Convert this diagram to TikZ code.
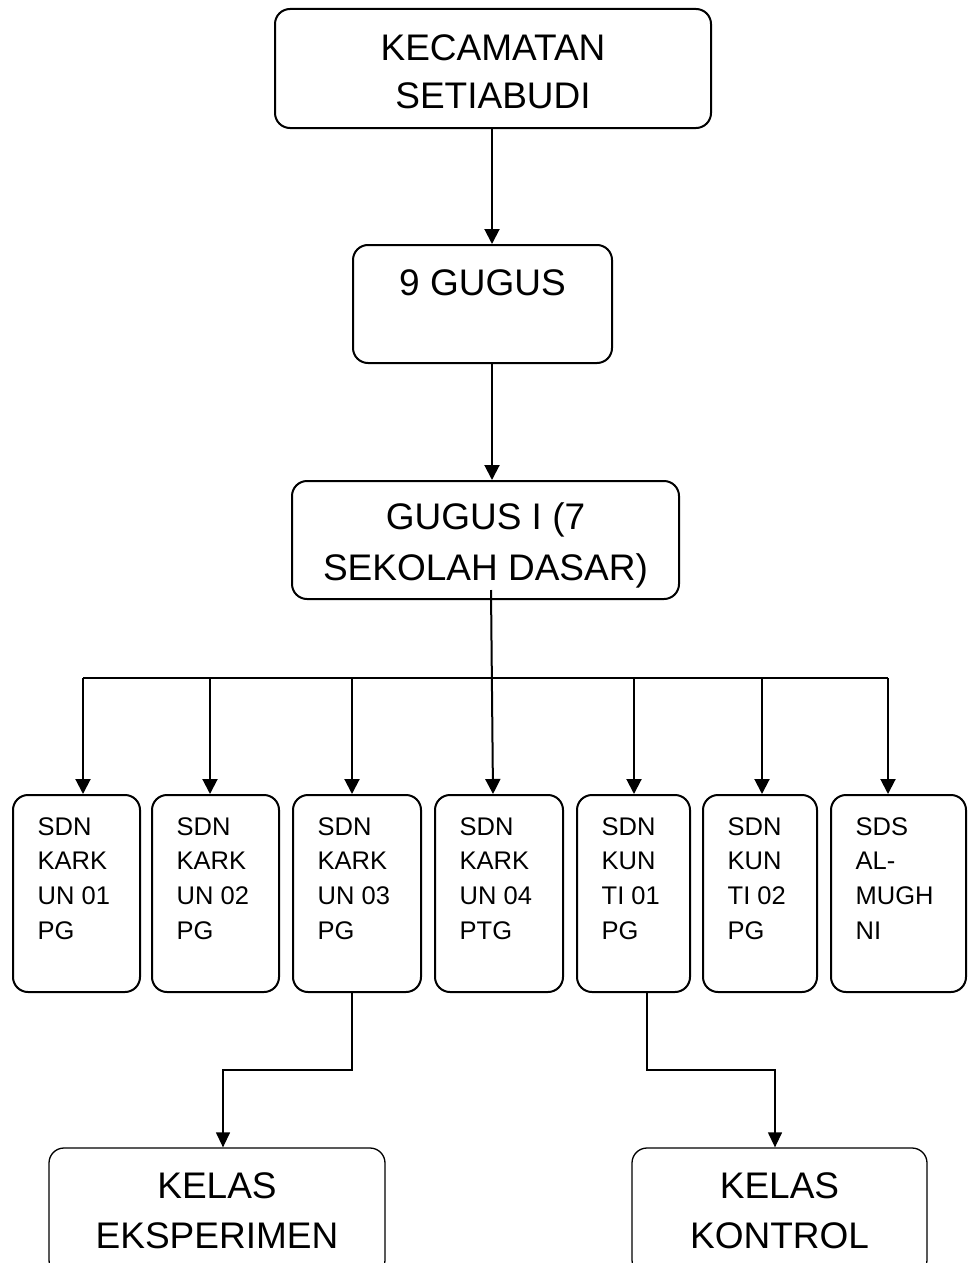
\documentclass[tikz,border=0pt]{standalone}
\usepackage{fontspec}
\setmainfont{Liberation Sans}
\usetikzlibrary{arrows.meta}
\begin{document}
\begin{tikzpicture}[x=1pt,y=-1pt,
  box/.style={draw, line width=2pt, rounded corners=15pt, inner sep=0pt},
  thinbox/.style={draw, line width=1.3pt, rounded corners=15pt, inner sep=0pt},
  big/.style={font=\fontsize{37}{49}\selectfont, align=center, anchor=base, inner sep=0pt},
  small/.style={font=\fontsize{25.5}{34.8}\selectfont, align=left, anchor=base west, inner sep=0pt},
  arr/.style={line width=2pt, -{Triangle[width=15pt,length=15pt]}},
  thinarr/.style={line width=1.3pt, -{Triangle[width=14pt,length=15pt]}},
]
\path[use as bounding box] (0,0) rectangle (967,1263);
\clip (0,0) rectangle (967,1263);
% boxes
\node[box, minimum width=436pt, minimum height=119pt] (kec) at (493,68.5) {};
\node[box, minimum width=259pt, minimum height=118pt] (gug9) at (482.5,304) {};
\node[box, minimum width=387pt, minimum height=118pt] (gug1) at (485.5,540) {};
\node[box, minimum width=127pt, minimum height=197pt] (s1) at (76.5,893.5) {};
\node[box, minimum width=127pt, minimum height=197pt] (s2) at (215.5,893.5) {};
\node[box, minimum width=128pt, minimum height=197pt] (s3) at (357,893.5) {};
\node[box, minimum width=128pt, minimum height=197pt] (s4) at (499,893.5) {};
\node[box, minimum width=113pt, minimum height=197pt] (s5) at (633.5,893.5) {};
\node[box, minimum width=114pt, minimum height=197pt] (s6) at (760,893.5) {};
\node[box, minimum width=135pt, minimum height=197pt] (s7) at (898.5,893.5) {};
\node[thinbox, minimum width=336pt, minimum height=127pt] (eks) at (217,1211.5) {};
\node[thinbox, minimum width=295pt, minimum height=127pt] (kon) at (779.5,1211.5) {};
% texts (anchor = baseline of last line)
\node[big, font=\fontsize{37}{48}\selectfont] (t1) at (493,108) {KECAMATAN\\SETIABUDI};
\node[big] (t2) at (482.5,295) {9 GUGUS};
\node[big, font=\fontsize{37}{51}\selectfont] (t3) at (485.5,580) {GUGUS I (7\\SEKOLAH DASAR)};
\node[small] (u1) at (37.5,939.4) {SDN\\KARK\\UN 01\\PG};
\node[small] (u2) at (176.5,939.4) {SDN\\KARK\\UN 02\\PG};
\node[small] (u3) at (317.5,939.4) {SDN\\KARK\\UN 03\\PG};
\node[small] (u4) at (459.5,939.4) {SDN\\KARK\\UN 04\\PTG};
\node[small] (u5) at (601.5,939.4) {SDN\\KUN\\TI 01\\PG};
\node[small] (u6) at (727.5,939.4) {SDN\\KUN\\TI 02\\PG};
\node[small] (u7) at (855.5,939.4) {SDS\\AL-\\MUGH\\NI};
\node[big, font=\fontsize{37}{50}\selectfont] (t4) at (217,1248) {KELAS\\EKSPERIMEN};
\node[big, font=\fontsize{37}{50}\selectfont] (t5) at (779.5,1248) {KELAS\\KONTROL};
% coordinates
\coordinate (c1) at (492,0);
\coordinate (g1s) at (491,590);
\coordinate (b1) at (83,678);
\coordinate (b2) at (210,678);
\coordinate (b3) at (352,678);
\coordinate (b4) at (493,678);
\coordinate (b5) at (634,678);
\coordinate (b6) at (762,678);
\coordinate (b7) at (888,678);
\coordinate (e1) at (352,1070);
\coordinate (e2) at (223,1070);
\coordinate (k1) at (647,1070);
\coordinate (k2) at (775,1070);
% connectors
\draw[arr] (c1 |- kec.south) -- (c1 |- gug9.north);
\draw[arr] (c1 |- gug9.south) -- (c1 |- gug1.north);
\draw[line width=2pt] (b1) -- (b7);
\draw[arr] (b1) -- (b1 |- s1.north);
\draw[arr] (b2) -- (b2 |- s2.north);
\draw[arr] (b3) -- (b3 |- s3.north);
\draw[arr] (g1s) -- (b4 |- s4.north);
\draw[arr] (b5) -- (b5 |- s5.north);
\draw[arr] (b6) -- (b6 |- s6.north);
\draw[arr] (b7) -- (b7 |- s7.north);
\draw[thinarr] (e1 |- s3.south) -- (e1) -- (e2) -- (e2 |- eks.north);
\draw[thinarr] (k1 |- s5.south) -- (k1) -- (k2) -- (k2 |- kon.north);
\end{tikzpicture}
\end{document}
